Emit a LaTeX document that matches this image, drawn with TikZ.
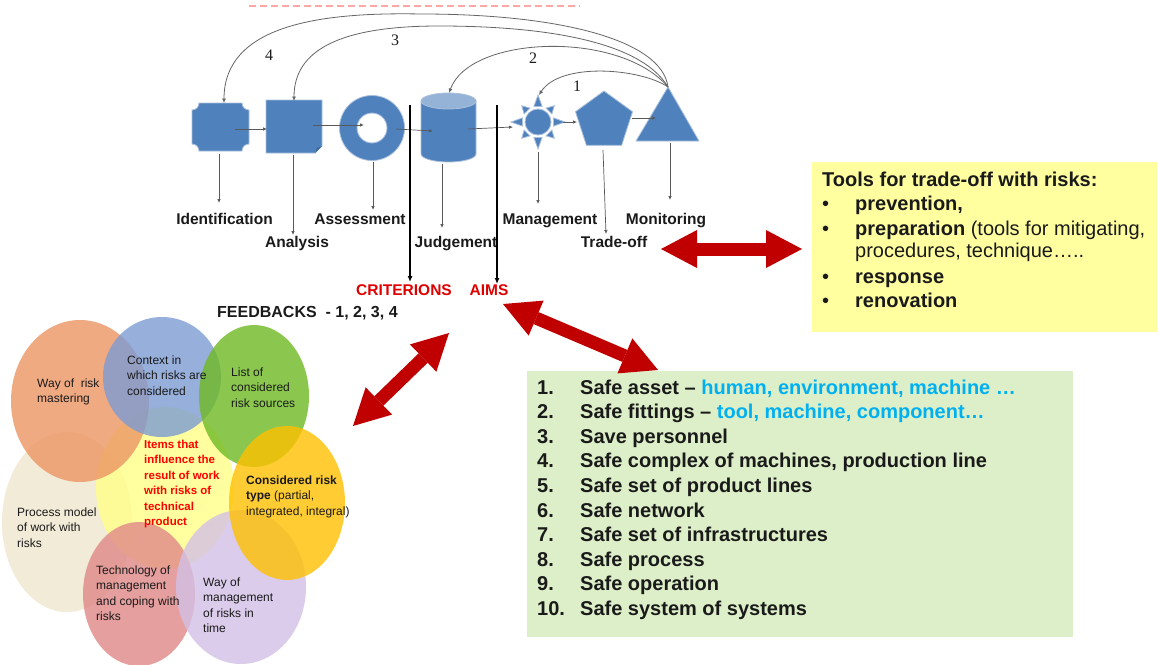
\documentclass[tikz,border=0pt]{standalone}
\usepackage{fontspec}
\setmainfont{Liberation Sans}
\newfontfamily\numfont{Liberation Serif}
\usetikzlibrary{arrows.meta}
\definecolor{sblue}{HTML}{4F81BD}
\definecolor{sblueedge}{HTML}{A9BFDC}
\definecolor{stopc}{HTML}{95B3D7}
\definecolor{sfold}{HTML}{3B6596}
\definecolor{ared}{HTML}{C00000}
\definecolor{labred}{HTML}{E00000}
\definecolor{tyellow}{HTML}{FFFFA0}
\definecolor{tgreen}{HTML}{DDEFC8}
\definecolor{tcyan}{HTML}{00B0F0}
\definecolor{corange}{HTML}{EC9563}
\definecolor{cblue}{HTML}{7C9BD3}
\definecolor{cgreen}{HTML}{6FBA24}
\definecolor{cgold}{HTML}{FFC000}
\definecolor{clav}{HTML}{D3C0E6}
\definecolor{cpink}{HTML}{E08888}
\definecolor{cbeige}{HTML}{EFE6CD}
\definecolor{cyel}{HTML}{FFFF88}
\definecolor{ink}{HTML}{1A1A1A}
\begin{document}
\begin{tikzpicture}[x=1pt,y=-1pt,
  bl/.style={fill=sblue, draw=sblueedge, line width=0.8pt},
  flow/.style={draw=black!65, line width=0.7pt, -{Latex[length=4pt,width=3.5pt]}},
  fbk/.style={draw=black!60, line width=0.8pt, -{Latex[length=4.5pt,width=4pt]}},
  lbl/.style={font=\fontsize{15.5}{18}\selectfont\bfseries, text=ink, inner sep=0pt, anchor=base},
  vline/.style={draw=black, line width=2.2pt, -{Latex[length=6pt,width=5pt]}},
  redarr/.style={draw=ared, line width=13pt, {Triangle[length=36pt,width=38pt,line width=0pt]}-{Triangle[length=36pt,width=38pt,line width=0pt]}},
  ctext/.style={font=\fontsize{12}{15.5}\selectfont, text=ink, align=left, anchor=north west, inner sep=0pt},
  vn/.style={fill=#1, fill opacity=0.8, draw=none},
  item/.style={font=\fontsize{20}{24}\selectfont\bfseries, text=ink, anchor=base west, inner sep=0pt},
  itemr/.style={font=\fontsize{20}{24}\selectfont, text=ink, anchor=base west, inner sep=0pt},
  fnum/.style={font=\fontsize{16}{18}\selectfont\numfont, text=ink, inner sep=0pt}
]
\useasboundingbox (0,0) rectangle (1158,664);
\fill[white] (0,0) rectangle (1158,664);

% faint red dashes at the top edge
\draw[draw=red!35, line width=1.6pt, dash pattern=on 7pt off 4pt] (249,6) -- (580,6);

% ---------- blue process shapes ----------
\filldraw[bl] (199,103) -- (242,103) .. controls (242,107) and (245,110) .. (249,110) -- (249,144)
  .. controls (245,144) and (242,147) .. (242,151) -- (199,151) .. controls (199,147) and (196,144) .. (192,144)
  -- (192,110) .. controls (196,110) and (199,107) .. (199,103) -- cycle;
\filldraw[bl] (266,100) -- (322,100) -- (322,146) -- (315,153) -- (266,153) -- cycle;
\fill[sfold] (315,153) -- (317,148) -- (322,146) -- cycle;
\filldraw[bl, even odd rule] (372,128) circle[radius=32.5pt] (372,128) circle[radius=15pt];
\filldraw[bl] (421,101) -- (421,154) arc[start angle=180,end angle=360,x radius=27.5pt,y radius=8pt] -- (476,101) -- cycle;
\filldraw[fill=stopc, draw=sblueedge, line width=0.8pt] (448.5,101) ellipse[x radius=27.5pt, y radius=8pt];
\filldraw[bl] (538,122) circle[radius=13pt];
\foreach \a/\r in {0/27,90/27,180/27,270/27,45/23,135/23,225/23,315/23}
  \filldraw[bl, shift={(538,122)}] (\a:\r pt) -- (\a+15:16pt) -- (\a-15:16pt) -- cycle;
\filldraw[bl] (604,91) -- (632.5,111.7) -- (621.6,145.3) -- (586.4,145.3) -- (575.5,111.7) -- cycle;
\filldraw[bl] (668,87) -- (699,141) -- (636,141) -- cycle;

% named points on the shapes
\coordinate (octR) at (235,129);  \coordinate (sqL) at (267,129);
\coordinate (sqR) at (313,125);   \coordinate (donC) at (364,125);
\coordinate (donR) at (396,129);  \coordinate (cylC) at (433,131);
\coordinate (cylR) at (468,129);  \coordinate (sunL) at (513,127);
\coordinate (sunR) at (563,122);  \coordinate (penL) at (577,122);
\coordinate (penR) at (632,118);  \coordinate (triC) at (656,118);
\coordinate (apex) at (668,87);
\coordinate (octT) at (224,103);  \coordinate (sqT) at (294,101);
\coordinate (cylT) at (449,93);   \coordinate (sunT) at (539,95);

% flow connectors
\draw[flow] (octR) -- (sqL);
\draw[flow] (sqR) -- (donC);
\draw[flow] (donR) -- (cylC);
\draw[flow] (cylR) -- (sunL);
\draw[flow] (sunR) -- (penL);
\draw[flow] (penR) -- (triC);

% feedback curves
\draw[fbk] (apex) .. controls (662,40) and (560,14) .. (421,14) .. controls (320,12) and (224,25) .. (octT);
\draw[fbk] (apex) .. controls (640,40) and (540,26) .. (439,26) .. controls (340,26) and (294,50) .. (sqT);
\draw[fbk] (apex) .. controls (620,30) and (470,35) .. (cylT);
\draw[fbk] (apex) .. controls (640,68) and (560,62) .. (sunT);
\node[fnum] (n4) at (269,55) {4};
\node[fnum] (n3) at (395,40) {3};
\node[fnum] (n2) at (533,58) {2};
\node[fnum] (n1) at (577,86) {1};

% stage labels
\node[lbl] (lId) at (224.5,224.5) {Identification};
\node[lbl] (lAn) at (297,247.5) {Analysis};
\node[lbl] (lAs) at (360,224.5) {Assessment};
\node[lbl] (lJu) at (456,247.5) {Judgement};
\node[lbl] (lMa) at (550,224.5) {Management};
\node[lbl] (lTr) at (614,247.5) {Trade-off};
\node[lbl] (lMo) at (666,224.5) {Monitoring};

\coordinate (idS) at (219,154);  \coordinate (idE) at (219,203);
\coordinate (anS) at (293,155);  \coordinate (anE) at (293,235);
\coordinate (asS) at (373,162);  \coordinate (asE) at (373,210);
\coordinate (juS) at (442,164);  \coordinate (juE) at (442,228);
\coordinate (maS) at (538,152);  \coordinate (maE) at (538,204);
\coordinate (trS) at (603,150);  \coordinate (trE) at (606,234);
\coordinate (moS) at (670,143);  \coordinate (moE) at (670,200);
\draw[flow] (idS) -- (idE);
\draw[flow] (anS) -- (anE);
\draw[flow] (asS) -- (asE);
\draw[flow] (juS) -- (juE);
\draw[flow] (maS) -- (maE);
\draw[flow] (trS) -- (trE);
\draw[flow] (moS) -- (moE);

% criterions / aims
\node[lbl, text=labred] (crit) at (404,295.5) {CRITERIONS};
\node[lbl, text=labred] (aims) at (489,295.5) {AIMS};
\coordinate (v1T) at (410,105); \coordinate (v1B) at (410,282);
\coordinate (v2T) at (497,105); \coordinate (v2B) at (497,284);
\draw[vline] (v1T) -- (v1B);
\draw[vline] (v2T) -- (v2B);
\node[font=\fontsize{16}{18}\selectfont\bfseries, text=ink, inner sep=0pt, anchor=base west] (fb) at (217,317) {FEEDBACKS\ \ - 1, 2, 3, 4};

% ---------- yellow tools box ----------
\node[fill=tyellow, minimum width=345pt, minimum height=170pt, anchor=north west, inner sep=0pt] (tools) at (812,162) {};
\node[item] (t0) at (822,186) {Tools for trade-off with risks:};
\foreach \y/\n in {210/b1,235/b2,283/b3,307/b4}
  \node[itemr] (\n) at (822,\y) {•};
\node[item] (t1) at (855,210) {prevention,};
\node[item] (t2) at (855,235) {preparation\mdseries\ (tools for mitigating,};
\node[itemr] (t3) at (855,257) {procedures, technique…..};
\node[item] (t4) at (855,283) {response};
\node[item] (t5) at (855,307) {renovation};

% ---------- green aims box ----------
\node[fill=tgreen, minimum width=546pt, minimum height=266pt, anchor=north west, inner sep=0pt] (safe) at (527,371) {};
\foreach \i/\t [evaluate=\i as \y using 394+24.6*(\i-1)] in {
  1/{Safe asset -- \textcolor{tcyan}{human, environment, machine …}},
  2/{Safe fittings -- \textcolor{tcyan}{tool, machine, component…}},
  3/{Save personnel},
  4/{Safe complex of machines, production line},
  5/{Safe set of product lines},
  6/{Safe network},
  7/{Safe set of infrastructures},
  8/{Safe process},
  9/{Safe operation},
  10/{Safe system of systems}} {
  \node[item] (gn\i) at (537,\y) {\i.};
  \node[item] (gt\i) at (580,\y) {\t};
}

% ---------- red double arrows ----------
\coordinate (rC1) at (661,249); \coordinate (rC2) at (802,249);
\coordinate (rA1) at (503,304); \coordinate (rA2) at (658,370);
\coordinate (rB1) at (449,333); \coordinate (rB2) at (353,426);
\draw[redarr] (rC1) -- (rC2);
\draw[redarr] (rA1) -- (rA2);
\draw[redarr] (rB1) -- (rB2);

% ---------- flower of influencing items ----------
\fill[vn=cbeige] (67,522) ellipse[x radius=65pt, y radius=90pt];
\fill[vn=cyel] (165,488) ellipse[x radius=69pt, y radius=81pt];
\fill[vn=corange] (80,401) ellipse[x radius=69pt, y radius=81pt];
\fill[vn=cblue] (162,377) ellipse[x radius=59pt, y radius=60pt];
\fill[vn=cgreen] (254,396) ellipse[x radius=55pt, y radius=71pt];
\fill[vn=cpink] (139,594) ellipse[x radius=56pt, y radius=72pt];
\fill[vn=clav] (241,587) ellipse[x radius=65pt, y radius=77pt];
\fill[vn=cgold] (287,503) ellipse[x radius=58pt, y radius=77pt];

\node[ctext] (w1) at (37,378.5) {Way of\ \ risk\\mastering};
\node[ctext] (w2) at (127,355.5) {Context in\\which risks are\\considered};
\node[ctext] (w3) at (231,367.5) {List of\\considered\\risk sources};
\node[ctext, text=red, font=\fontsize{11.5}{15.5}\selectfont\bfseries] (w4) at (144,439.5) {Items that\\influence the\\result of work\\with risks of\\technical\\product};
\node[ctext] (w5) at (246,475.5) {\textbf{Considered risk}\\\textbf{type} (partial,\\integrated, integral)};
\node[ctext] (w6) at (17,507.5) {Process model\\of work with\\risks};
\node[ctext] (w7) at (96,565.5) {Technology of\\management\\and coping with\\risks};
\node[ctext] (w8) at (203,577.5) {Way of\\management\\of risks in\\time};
\end{tikzpicture}
\end{document}
